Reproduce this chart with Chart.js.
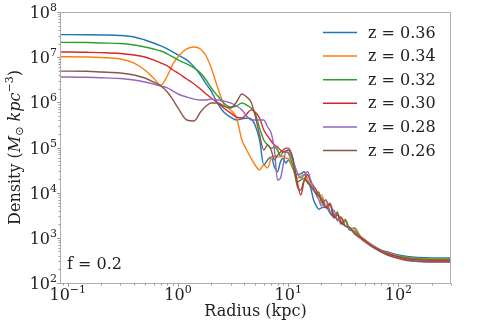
<!DOCTYPE html>
<html>
<head>
<meta charset="utf-8">
<script src="https://cdn.jsdelivr.net/npm/chart.js@4.4.0/dist/chart.umd.min.js"></script>
<style>
    html, body { margin: 0; padding: 0; background: #fff; }
</style>
</head>
<body>
<canvas id="densityChart" width="493" height="330"></canvas>
<script>
// Radius grid (kpc), shared by all snapshots
const radius = [0.085, 0.1, 0.15, 0.2, 0.3, 0.4, 0.5, 0.6, 0.7, 0.8, 0.9, 1.0,
    1.2, 1.4, 1.6, 1.8, 2.0, 2.3, 2.6, 3.0, 3.4, 3.8, 4.2, 4.6, 5.0, 5.5, 6.0,
    6.5, 7.0, 7.5, 8.0, 8.5, 9.0, 9.5, 10, 11, 12, 13, 14, 15, 16, 17, 18, 19,
    20, 22, 24, 26, 28, 30, 33, 36, 40, 45, 50, 60, 70, 80, 100, 120, 150, 200, 300];

// Density (M_sun kpc^-3) per redshift
const densZ036 = [3.15e7, 3.15e7, 3.13e7, 3.1e7, 3.02e7, 2.8e7, 2.4e7, 2.06e7, 1.77e7, 1.52e7, 1.3e7, 1.12e7,
    8.7e6, 6.1e6, 4.0e6, 2.55e6, 1.78e6, 9.2e5, 6.1e5, 4.7e5, 4.06e5, 4.3e5, 4.5e5, 4.3e5, 3.15e5, 1.47e5, 4.1e4,
    5.3e4, 6.2e4, 3.7e4, 2.9e4, 4.8e4, 5.8e4, 4.5e4, 5.3e4, 3.5e4, 2.5e4, 2.6e4, 2.9e4, 1.9e4, 1.27e4, 6.9e3, 5.1e3,
    4.3e3, 4.6e3, 4.8e3, 3.5e3, 2.9e3, 3.4e3, 2.24e3, 2.5e3, 1.57e3, 1.65e3, 1.1e3, 894, 658, 537, 485, 416, 385, 366, 357, 357];
const densZ034 = [1.02e7, 1.02e7, 1.01e7, 9.8e6, 9.1e6, 7.4e6, 5.2e6, 3.46e6, 2.42e6, 3.83e6, 7.1e6, 1.01e7,
    1.52e7, 1.68e7, 1.52e7, 1.06e7, 5.8e6, 2.08e6, 9.2e5, 6.8e5, 4.5e5, 1.47e5, 8.8e4, 5.8e4, 4.1e4, 3.2e4, 4.1e4,
    3.5e4, 5.8e4, 6.5e4, 6.2e4, 6.2e4, 6.5e4, 5.8e4, 5.8e4, 3.5e4, 2.1e4, 2.3e4, 2.5e4, 1.9e4, 1.48e4, 1.14e4, 9.8e3,
    8.4e3, 8.9e3, 5.3e3, 5.9e3, 3.0e3, 3.5e3, 2.24e3, 2.6e3, 1.65e3, 1.57e3, 1.1e3, 894, 642, 524, 461, 395, 366, 348, 339, 339];
const densZ032 = [2.13e7, 2.13e7, 2.11e7, 2.06e7, 2.01e7, 1.86e7, 1.68e7, 1.52e7, 1.37e7, 1.18e7, 1.01e7, 8.7e6,
    7.1e6, 5.8e6, 4.46e6, 3.12e6, 2.08e6, 1.38e6, 9.7e5, 7.9e5, 8.3e5, 9.7e5, 8.7e5, 7.5e5, 5.8e5, 2.7e5, 1.47e5,
    1.14e5, 9.7e4, 1.02e5, 8.8e4, 6.5e4, 7.9e4, 7.9e4, 7.5e4, 4.1e4, 1.72e4, 1.9e4, 2.1e4, 1.64e4, 1.4e4, 1.14e4, 9.8e3,
    1.04e4, 5.9e3, 6.9e3, 3.73e3, 3.0e3, 3.73e3, 2.02e3, 2.36e3, 1.49e3, 1.41e3, 1.04e3, 850, 626, 510, 449, 385, 357, 339, 331, 331];
const densZ030 = [1.3e7, 1.3e7, 1.28e7, 1.26e7, 1.21e7, 1.12e7, 1.01e7, 8.7e6, 7.4e6, 6.4e6, 5.2e6, 4.46e6,
    3.29e6, 2.55e6, 1.97e6, 1.53e6, 1.25e6, 9.7e5, 7.5e5, 5.8e5, 4.7e5, 4.5e5, 5.5e5, 6.8e5, 6.1e5, 4.5e5, 2.44e5,
    1.8e5, 1.39e5, 1.14e5, 1.02e5, 8.8e4, 7.9e4, 8.4e4, 8.8e4, 5.8e4, 1.9e4, 8.9e3, 1.9e4, 2.5e4, 1.72e4, 1.4e4, 1.14e4,
    8.4e3, 7.2e3, 4.6e3, 5.3e3, 2.75e3, 3.2e3, 2.24e3, 1.83e3, 1.65e3, 1.28e3, 1.04e3, 850, 626, 510, 438, 376, 339, 323, 314, 314];
const densZ028 = [3.64e6, 3.64e6, 3.58e6, 3.51e6, 3.37e6, 3.12e6, 2.82e6, 2.55e6, 2.3e6, 2.08e6, 1.78e6, 1.53e6,
    1.31e6, 1.18e6, 1.13e6, 1.13e6, 1.18e6, 1.13e6, 1.07e6, 9.7e5, 8.3e5, 6.8e5, 5.0e5, 4.06e5, 4.06e5, 4.06e5, 4.06e5,
    2.84e5, 2.09e5, 8.8e4, 1.9e4, 2.1e4, 4.1e4, 7.9e4, 7.9e4, 5.3e4, 2.9e4, 2.1e4, 2.5e4, 2.9e4, 1.9e4, 1.27e4, 8.9e3,
    6.9e3, 5.1e3, 6.9e3, 3.73e3, 4.1e3, 2.36e3, 2.75e3, 1.83e3, 1.65e3, 1.28e3, 990, 808, 595, 485, 416, 357, 323, 306, 299, 299];
const densZ026 = [4.9e6, 4.9e6, 4.87e6, 4.7e6, 4.46e6, 4.03e6, 3.46e6, 2.82e6, 2.3e6, 1.69e6, 1.13e6, 7.5e5,
    4.06e5, 3.86e5, 6.1e5, 8.3e5, 9.7e5, 9.7e5, 8.3e5, 7.5e5, 1.02e6, 1.53e6, 1.31e6, 1.02e6, 5.2e5, 1.89e5, 8.8e4,
    1.14e5, 8.8e4, 5.3e4, 6.8e4, 7.9e4, 8.8e4, 9.7e4, 9.7e4, 5.8e4, 1.48e4, 1.14e4, 1.9e4, 1.72e4, 1.4e4, 1.14e4, 9.3e3,
    8.4e3, 7.6e3, 4.8e3, 5.6e3, 3.2e3, 2.6e3, 2.9e3, 1.83e3, 1.73e3, 1.22e3, 990, 808, 595, 485, 416, 348, 314, 299, 291, 291];

const zLabels = ['z = 0.36', 'z = 0.34', 'z = 0.32', 'z = 0.30', 'z = 0.28', 'z = 0.26'];
const lineColors = ['#1f77b4', '#ff7f0e', '#2ca02c', '#d62728', '#9467bd', '#8c564b'];

// tick labels: 10^exp
const xMajorTicks = [0.1, 1, 10, 100];
const xTickExp = ['\u22121', '0', '1', '2'];
const yMajorTicks = [1e2, 1e3, 1e4, 1e5, 1e6, 1e7, 1e8];
const yTickExp = ['2', '3', '4', '5', '6', '7', '8'];

const annotationText = 'f = 0.2';

const SERIF = '"DejaVu Serif", serif';

// minor ticks at 2..9 x decade
function minorTicks(decades, lo, hi) {
    const out = [];
    decades.forEach(d => {
        for (let k = 2; k <= 9; k++) {
            const v = d * k;
            if (v >= lo && v <= hi) out.push(v);
        }
    });
    return out;
}

function drawPower(ctx, exp, x, y, align) {
    ctx.font = '16px ' + SERIF;
    const wb = ctx.measureText('10').width;
    ctx.font = '11px ' + SERIF;
    const we = ctx.measureText(exp).width;
    const w = wb + we;
    const x0 = align === 'center' ? x - w / 2 : x - w;
    ctx.textAlign = 'left';
    ctx.textBaseline = 'alphabetic';
    ctx.font = '16px ' + SERIF;
    ctx.fillText('10', x0, y);
    ctx.font = '11px ' + SERIF;
    ctx.fillText(exp, x0 + wb, y - 7);
}

const axesPlugin = {
    id: 'mplAxes',
    afterDatasetsDraw(chart) {
        const ctx = chart.ctx;
        const a = chart.chartArea;
        const xs = chart.scales.x, ys = chart.scales.y;
        ctx.save();

        // frame
        ctx.strokeStyle = '#b0b0b0';
        ctx.lineWidth = 1;
        ctx.strokeRect(Math.round(a.left) + 0.5, Math.round(a.top) + 0.5,
            Math.round(a.right - a.left) - 1, Math.round(a.bottom - a.top));

        // tick marks
        ctx.strokeStyle = '#999';
        const xMinor = minorTicks([0.01, 0.1, 1, 10, 100], xs.min, xs.max);
        const yMinor = minorTicks([1e2, 1e3, 1e4, 1e5, 1e6, 1e7], ys.min, ys.max);
        const bottom = Math.round(a.bottom) + 0.5;
        const left = Math.round(a.left) + 0.5;
        ctx.beginPath();
        xMajorTicks.forEach(v => { const px = Math.round(xs.getPixelForValue(v)) + 0.5; ctx.moveTo(px, bottom); ctx.lineTo(px, bottom + 3.5); });
        xMinor.forEach(v => { const px = Math.round(xs.getPixelForValue(v)) + 0.5; ctx.moveTo(px, bottom); ctx.lineTo(px, bottom + 2); });
        yMajorTicks.forEach(v => { const py = Math.round(ys.getPixelForValue(v)) + 0.5; ctx.moveTo(left, py); ctx.lineTo(left - 3.5, py); });
        yMinor.forEach(v => { const py = Math.round(ys.getPixelForValue(v)) + 0.5; ctx.moveTo(left, py); ctx.lineTo(left - 2, py); });
        ctx.stroke();

        // tick labels
        ctx.fillStyle = '#222';
        xMajorTicks.forEach((v, i) => drawPower(ctx, xTickExp[i], xs.getPixelForValue(v), a.bottom + 17, 'center'));
        yMajorTicks.forEach((v, i) => drawPower(ctx, yTickExp[i], a.left - 3, ys.getPixelForValue(v) + 6, 'right'));

        // x title
        ctx.font = '16px ' + SERIF;
        ctx.textAlign = 'center';
        ctx.textBaseline = 'alphabetic';
        ctx.fillText('Radius (kpc)', (a.left + a.right) / 2, 316);

        // y title with math parts
        const parts = [
            { t: 'Density (', f: '16px ' + SERIF, dy: 0 },
            { t: 'M', f: 'italic 16px ' + SERIF, dy: 0 },
            { t: '\u2299', f: '11px "DejaVu Sans", sans-serif', dy: 3 },
            { t: ' ', f: '16px ' + SERIF, dy: 0 },
            { t: 'kpc', f: 'italic 16px ' + SERIF, dy: 0 },
            { t: '\u22123', f: '11px ' + SERIF, dy: -7 },
            { t: ')', f: '16px ' + SERIF, dy: 0 }
        ];
        let total = 0;
        parts.forEach(p => { ctx.font = p.f; p.w = ctx.measureText(p.t).width; total += p.w; });
        ctx.save();
        ctx.translate(20, (a.top + a.bottom) / 2);
        ctx.rotate(-Math.PI / 2);
        ctx.textAlign = 'left';
        let cx = -total / 2;
        parts.forEach(p => { ctx.font = p.f; ctx.fillText(p.t, cx, p.dy); cx += p.w; });
        ctx.restore();

        ctx.restore();
    },
    afterDraw(chart) {
        const ctx = chart.ctx;
        const a = chart.chartArea;
        ctx.save();
        // legend
        ctx.font = '16px ' + SERIF;
        ctx.textAlign = 'left';
        ctx.textBaseline = 'middle';
        chart.data.datasets.forEach((ds, i) => {
            const y = 32.5 + i * 23.6;
            ctx.strokeStyle = ds.borderColor;
            ctx.lineWidth = 1.5;
            ctx.beginPath();
            ctx.moveTo(323, y);
            ctx.lineTo(357, y);
            ctx.stroke();
            ctx.fillStyle = '#222';
            ctx.fillText(ds.label, 368, y + 1);
        });
        // annotation
        ctx.textBaseline = 'alphabetic';
        ctx.fillText(annotationText, a.left + 7, 269);
        ctx.restore();
    }
};

const series = [densZ036, densZ034, densZ032, densZ030, densZ028, densZ026];

document.addEventListener('DOMContentLoaded', function() {
    const ctx = document.getElementById('densityChart').getContext('2d');
    new Chart(ctx, {
        type: 'line',
        data: {
            datasets: series.map((d, i) => ({
                label: zLabels[i],
                data: radius.map((r, j) => ({ x: r, y: d[j] })),
                borderColor: lineColors[i],
                backgroundColor: lineColors[i],
                borderWidth: 1.4,
                pointRadius: 0,
                fill: false,
                cubicInterpolationMode: 'monotone',
                order: series.length - i
            }))
        },
        options: {
            responsive: false,
            animation: false,
            layout: { padding: { left: 60, right: 42, top: 12, bottom: 47 } },
            plugins: {
                legend: { display: false },
                tooltip: { enabled: false }
            },
            scales: {
                x: { type: 'logarithmic', min: 0.085, max: 300, display: false },
                y: { type: 'logarithmic', min: 100, max: 1e8, display: false }
            }
        },
        plugins: [axesPlugin]
    });
});
</script>
</body>
</html>
